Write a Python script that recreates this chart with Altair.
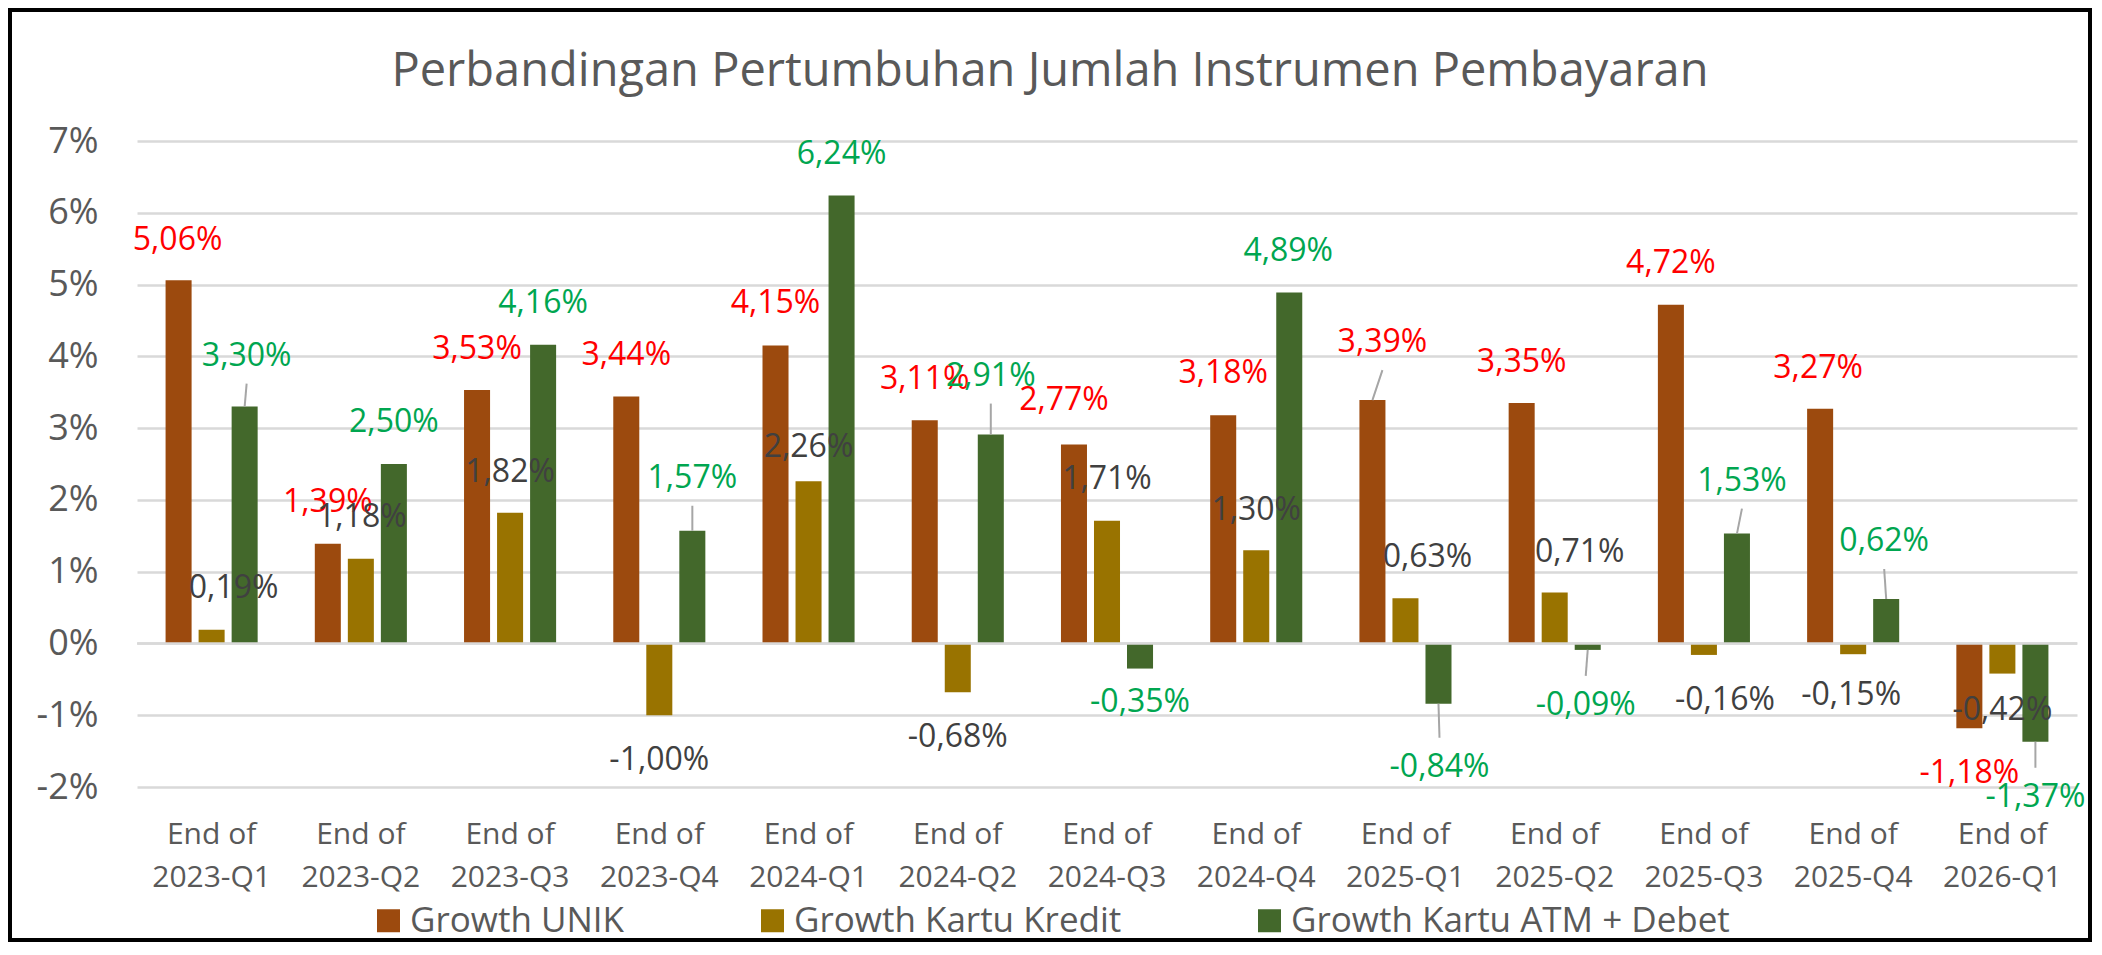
import altair as alt
import pandas as pd

# ---------------- data ----------------
categories = ["2023-Q1", "2023-Q2", "2023-Q3", "2023-Q4", "2024-Q1", "2024-Q2", "2024-Q3",
              "2024-Q4", "2025-Q1", "2025-Q2", "2025-Q3", "2025-Q4", "2026-Q1"]
series_names = ["Growth UNIK", "Growth Kartu Kredit", "Growth Kartu ATM + Debet"]
growth_unik = [5.06, 1.39, 3.53, 3.44, 4.15, 3.11, 2.77, 3.18, 3.39, 3.35, 4.72, 3.27, -1.18]
growth_kredit = [0.19, 1.18, 1.82, -1.00, 2.26, -0.68, 1.71, 1.30, 0.63, 0.71, -0.16, -0.15, -0.42]
growth_atm = [3.30, 2.50, 4.16, 1.57, 6.24, 2.91, -0.35, 4.89, -0.84, -0.09, 1.53, 0.62, -1.37]
y_ticks = list(range(-2, 8))
title_text = "Perbandingan Pertumbuhan Jumlah Instrumen Pembayaran"

# ---------------- styling / layout ----------------
bar_colors = ["#9C4A0E", "#997300", "#43682B"]
label_colors = ["#FF0000", "#404040", "#00A650"]
FONT = "Open Sans"
GREY = "#595959"
W, H = 1940, 646
Y_DOMAIN = [-2, 7]
PAD_IN, PAD_IN_OFF = 0.383, 0.2121

# hand-placed data-label nudges (pixels from bar centre / bar end), as in the source chart
label_dx = [
    [-1, 0, 0, 0, 0, 0, -10, 0, 10, 0, 0, -2, 0],
    [22, 1, 0, 0, 0, 0, 0, 0, 22, 25, 21, -2, 0],
    [2, 0, 0, 0, 0, 0, 0, -1, 1, -2, 5, -2, 0],
]
label_dy = [
    [-40, -42, -41, -42, -43, -41, -45, -42, -58, -41, -42, -41, 45],
    [-42, -42, -41, 45, -34, 45, -42, -40, -41, -40, 45, 41, 36],
    [-51, -42, -42, -53, -42, -59, 33, -41, 63, 55, -53, -58, 55],
]
leader_flags = [
    [8],
    [],
    [0, 3, 5, 8, 9, 10, 11, 12],
]

series_values = [growth_unik, growth_kredit, growth_atm]

# ---------------- derived tables ----------------
STEP = W / len(categories)
BANDW = STEP * (1 - PAD_IN)
SUBSTEP = BANDW / (3 - PAD_IN_OFF)
PXU = H / (Y_DOMAIN[1] - Y_DOMAIN[0])


def fmt(v):
    return f"{v:.2f}".replace(".", ",") + "%"


bar_rows, lab_rows, lead_rows = [], [], []
for j, (name, vals) in enumerate(zip(series_names, series_values)):
    for i, v in enumerate(vals):
        bar_rows.append({"cat": categories[i], "series": name, "value": v})
        bx = i + 0.5 + (j - 1) * SUBSTEP / STEP
        lx = i + 0.5 + ((j - 1) * SUBSTEP + label_dx[j][i]) / STEP
        ly = v - label_dy[j][i] / PXU
        lab_rows.append({"series": name, "lx": lx, "ly": ly, "label": fmt(v), "sidx": j})
        if i in leader_flags[j]:
            end_y = ly - 28 / PXU if label_dy[j][i] < 0 else ly + 29 / PXU
            lead_rows.append({"x1": bx, "y1": v, "x2": lx, "y2": end_y})

bars_df = pd.DataFrame(bar_rows)
labels_df = pd.DataFrame(lab_rows)
leaders_df = pd.DataFrame(lead_rows)
one = pd.DataFrame({"a": [0]})

yscale = alt.Scale(domain=Y_DOMAIN, nice=False, zero=False)
xq = alt.Scale(domain=[0, len(categories)], nice=False, zero=False)

bars = alt.Chart(bars_df).mark_bar().encode(
    x=alt.X("cat:N", sort=categories,
            scale=alt.Scale(paddingInner=PAD_IN, paddingOuter=PAD_IN / 2),
            axis=alt.Axis(title=None, labelExpr="['End of', datum.value]", labelAngle=0,
                          labelFontSize=30, labelFont=FONT, labelColor=GREY,
                          labelLineHeight=43, labelPadding=32, labelBaseline="top",
                          domain=False, ticks=False, tickSize=0, grid=False)),
    xOffset=alt.XOffset("series:N", sort=series_names,
                        scale=alt.Scale(paddingInner=PAD_IN_OFF, paddingOuter=0)),
    y=alt.Y("value:Q", scale=yscale,
            axis=alt.Axis(title=None, values=y_ticks, labelExpr="datum.value + '%'",
                          labelFontSize=36, labelFont=FONT, labelColor=GREY,
                          labelPadding=39, domain=False, ticks=False, tickSize=0,
                          gridColor="#D9D9D9", gridWidth=2.5)),
    color=alt.Color("series:N", sort=series_names,
                    scale=alt.Scale(domain=series_names, range=bar_colors),
                    legend=alt.Legend(title=None, orient="none", legendX=234, legendY=762,
                                      direction="horizontal", symbolType="square",
                                      symbolSize=529, symbolStrokeWidth=0,
                                      labelFontSize=35, labelFont=FONT, labelColor=GREY,
                                      labelOffset=4, columnPadding=130, labelLimit=800,
                                      padding=0)),
)

zero_rule = alt.Chart(one).mark_rule(color="#D9D9D9", strokeWidth=2.5).encode(
    y=alt.Y("z:Q", scale=yscale, title=None)
).transform_calculate(z="0")

leaders = alt.Chart(leaders_df).mark_rule(color="#A6A6A6", strokeWidth=2).encode(
    x=alt.X("x1:Q", scale=xq, axis=None),
    x2="x2:Q",
    y=alt.Y("y1:Q", scale=yscale, title=None),
    y2="y2:Q",
)

text_layers = []
for j in range(3):
    text_layers.append(
        alt.Chart(labels_df[labels_df["sidx"] == j]).mark_text(
            font=FONT, fontSize=32, color=label_colors[j], align="center", baseline="middle"
        ).encode(
            x=alt.X("lx:Q", scale=xq, axis=None),
            y=alt.Y("ly:Q", scale=yscale, title=None),
            text="label:N",
        )
    )

title_mark = alt.Chart(one).mark_text(
    text=title_text, font=FONT, fontSize=47, color=GREY, align="center", baseline="alphabetic"
).encode(x=alt.value(913), y=alt.value(-55))

frame = alt.Chart(one).mark_rect(fillOpacity=0, stroke="black", strokeWidth=4).encode(
    x=alt.value(-127), x2=alt.value(1953), y=alt.value(-131), y2=alt.value(799)
)

chart = alt.layer(bars, zero_rule, leaders, *text_layers, title_mark, frame).resolve_scale(
    x="independent"
).properties(
    width=W, height=H,
    autosize=alt.AutoSizeParams(type="none"),
    padding={"left": 129, "top": 133, "right": 15, "bottom": 155},
    background="white",
).configure_view(stroke=None)

chart.save("out.html", embed_options={"renderer": "svg", "actions": False})
